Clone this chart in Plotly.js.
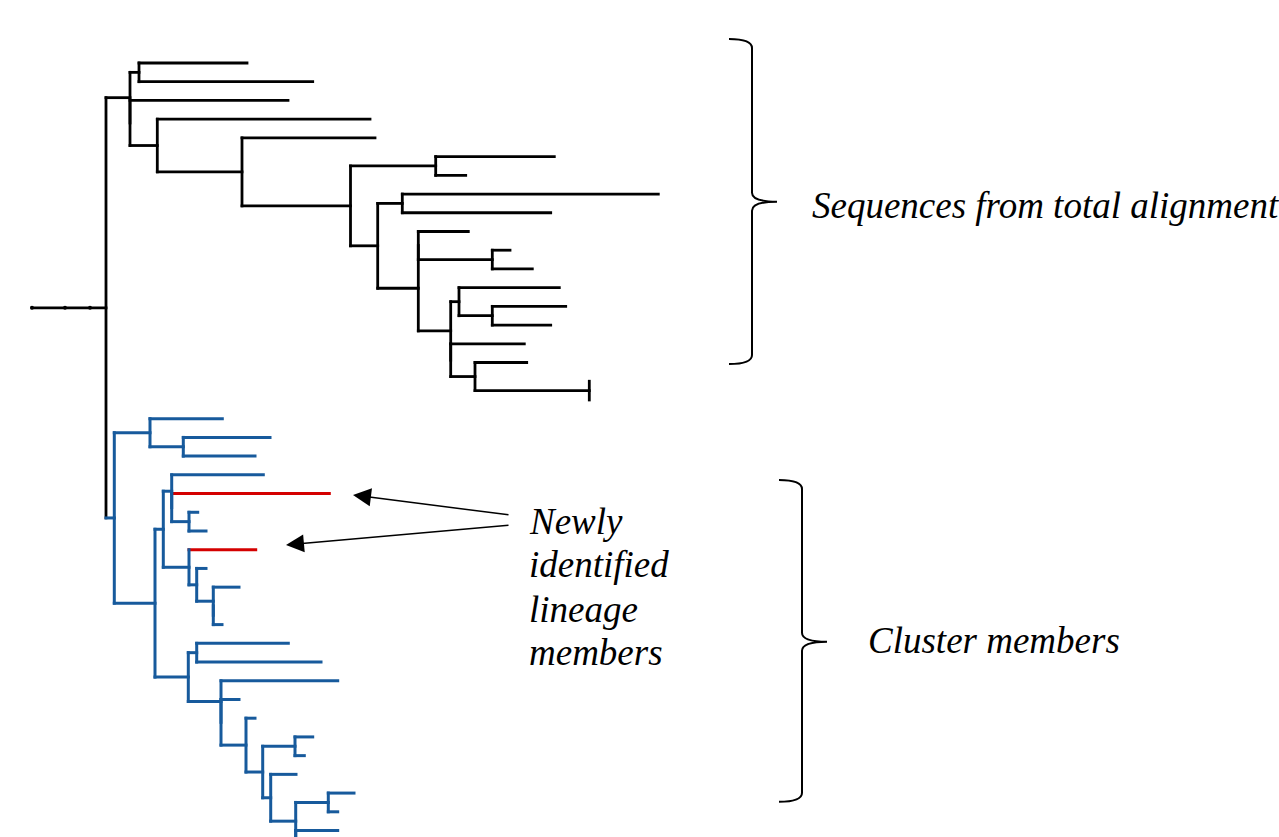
<!DOCTYPE html>
<html>
<head>
<meta charset="utf-8">
<script src="https://cdn.plot.ly/plotly-3.0.1.min.js"></script>
<style>
html,body{margin:0;padding:0;background:#fff;}
#chart{width:1279px;height:837px;}
path.js-line{stroke-linecap:square;}
</style>
</head>
<body>
<div id="chart"></div>
<script>
// ---------- Tree data (depth-first order; leaves appear top to bottom) ----------
const nodeName = ["origin","R0","B","A","L1","L2","B1","L3","C","L4","D","L5","E","F","L6","L7","G","H","L8","L9","I","I1","L10","J","L11","L12","K","Kc","L13","M","L14","L15","K1","L16","N","L17","N1","L18","L19",
  "P","Q","L20","S","L21","L22","R","T","U","L23","U1","L24","W","L25","L26","V","L27","X","L28","Y","L29","Y1","L30","L31","Z","AA","L32","L33","AB","L34","AB1","L35","AC","L36","AD","AE","L37","L38","AF","L39","AG","AH","L40","L41","AG1","L42","L43"];
const nodeParent = [null,"origin","R0","B","A","A","B","B1","B1","C","C","D","D","E","F","F","E","G","H","H","G","I","I1","I1","J","J","I","K","Kc","Kc","M","M","K","K1","K1","N","N","N1","N1",
  "R0","P","Q","Q","S","S","P","R","T","U","U","U1","U1","W","W","T","V","V","X","X","Y","Y","Y1","Y1","R","Z","AA","AA","Z","AB","AB","AB1","AB1","AC","AC","AD","AE","AE","AD","AF","AF","AG","AH","AH","AG","AG1","AG1"];
// cumulative distance from the origin (horizontal position)
const nodeDepth = [32,106,130,139,247,312.7,130,288,157.3,370,242,375,350.5,435.7,554.3,465.7,377.7,402.3,658.3,550.7,418.3,418.3,468.3,492.3,510,532.3,450.7,459,559.3,492.3,565.7,550.7,450.7,524.3,475,526.7,589.3,589.3,589.3,
  114.3,150,222.3,183.3,270,255,155,163.3,171.7,263.3,171.7,329.3,189,197.7,206,189,255.7,196.7,206,213.3,239,213.3,213.3,222,188.3,196.7,288.3,321,221,337.7,221,239,246,255,262.7,295,312.7,304.3,270.7,296,295.7,328.3,354,337.7,295.7,337.7,320];
// group: k = total alignment, b = cluster members, r = newly identified
const nodeGroup = ["k","k","k","k","k","k","k","k","k","k","k","k","k","k","k","k","k","k","k","k","k","k","k","k","k","k","k","k","k","k","k","k","k","k","k","k","k","k","k",
  "b","b","b","b","b","b","b","b","b","b","b","r","b","b","b","b","r","b","b","b","b","b","b","b","b","b","b","b","b","b","b","b","b","b","b","b","b","b","b","b","b","b","b","b","b","b","b"];
const rootStemMarks = [32, 65, 90];

const groupColor = {k:"#000000", b:"#175a9c", r:"#d40000"};
const groupWidth = {k:2.8, b:3, r:3};

// ---------- Layout of the tree ----------
const idx = {}; nodeName.forEach((n,i)=>idx[n]=i);
const kids = nodeName.map(()=>[]);
nodeParent.forEach((p,i)=>{ if(p!==null) kids[idx[p]].push(i); });
const yPos = new Array(nodeName.length);
let slot = 0;
function place(i){
  if(kids[i].length===0){ yPos[i]=slot++; return; }
  kids[i].forEach(place);
  const c = kids[i];
  yPos[i] = (yPos[c[0]] + yPos[c[c.length-1]])/2;
}
place(0);

const seg = {k:{x:[],y:[]}, b:{x:[],y:[]}, r:{x:[],y:[]}};
nodeName.forEach((n,i)=>{
  const g = nodeGroup[i];
  if(nodeParent[i]!==null){
    const p = idx[nodeParent[i]];
    seg[g].x.push(nodeDepth[p], nodeDepth[i], null);
    seg[g].y.push(yPos[i], yPos[i], null);
  }
  if(kids[i].length>1){
    const c = kids[i];
    seg[g].x.push(nodeDepth[i], nodeDepth[i], null);
    seg[g].y.push(yPos[c[0]], yPos[c[c.length-1]], null);
  }
});

const traces = ["r","k","b"].map(g=>({
  type:"scatter", mode:"lines", x:seg[g].x, y:seg[g].y,
  line:{color:groupColor[g], width:groupWidth[g]},
  hoverinfo:"skip", showlegend:false, connectgaps:false
}));
traces.push({
  type:"scatter", mode:"markers", x:rootStemMarks, y:rootStemMarks.map(()=>yPos[idx["R0"]]),
  marker:{color:"#000", size:4}, hoverinfo:"skip", showlegend:false
});

// ---------- Decorations (page pixel positions) ----------
const H = 837;
const py = p => 1 - p/H;
function brace(xBack, xSpine, xTip, yTop, yMid, yBot){
  const r = 9;
  return `M ${xBack} ${py(yTop)} Q ${xSpine} ${py(yTop)} ${xSpine} ${py(yTop+r)} ` +
         `L ${xSpine} ${py(yMid-r)} Q ${xSpine} ${py(yMid)} ${xTip} ${py(yMid)} ` +
         `Q ${xSpine} ${py(yMid)} ${xSpine} ${py(yMid+r)} ` +
         `L ${xSpine} ${py(yBot-r)} Q ${xSpine} ${py(yBot)} ${xBack} ${py(yBot)}`;
}
const shapes = [
  {type:"path", xref:"x", yref:"paper", path:brace(729,752,777,39,201.7,364), line:{color:"#000",width:2}},
  {type:"path", xref:"x", yref:"paper", path:brace(779,802,827,480,641.7,801.7), line:{color:"#000",width:2}}
];
const font = {family:"Liberation Serif", size:37, color:"#000", style:"italic"};
const textAnn = (t, x, y) => ({text:t, x:x, y:py(y), xref:"x", yref:"paper",
  xanchor:"left", yanchor:"middle", showarrow:false, font:font});
const newlyLines = ["Newly","identified","lineage","members"];
const newlyY = [521, 564, 609, 652];
const annotations = [
  textAnn("Sequences from total alignment", 810, 206),
  textAnn("Cluster members", 866, 640),
  ...newlyLines.map((t,i)=>textAnn(t, 527, newlyY[i])),
  {text:"", x:353, y:py(495), xref:"x", yref:"paper", ax:157, ay:20, showarrow:true,
   arrowhead:2, arrowsize:2.4, arrowwidth:1.5, arrowcolor:"#000"},
  {text:"", x:286, y:py(545), xref:"x", yref:"paper", ax:224, ay:-20, showarrow:true,
   arrowhead:2, arrowsize:2.4, arrowwidth:1.5, arrowcolor:"#000"}
];

const y0 = -63/18.72, y1 = (837-63)/18.72;
const layout = {
  width:1279, height:837, margin:{l:0,r:0,t:0,b:0,pad:0},
  paper_bgcolor:"#fff", plot_bgcolor:"#fff",
  xaxis:{range:[0,1279], visible:false, fixedrange:true},
  yaxis:{range:[y1, y0], visible:false, fixedrange:true},
  shapes:shapes, annotations:annotations, showlegend:false
};
Plotly.newPlot("chart", traces, layout, {displayModeBar:false, staticPlot:true});
</script>
</body>
</html>
